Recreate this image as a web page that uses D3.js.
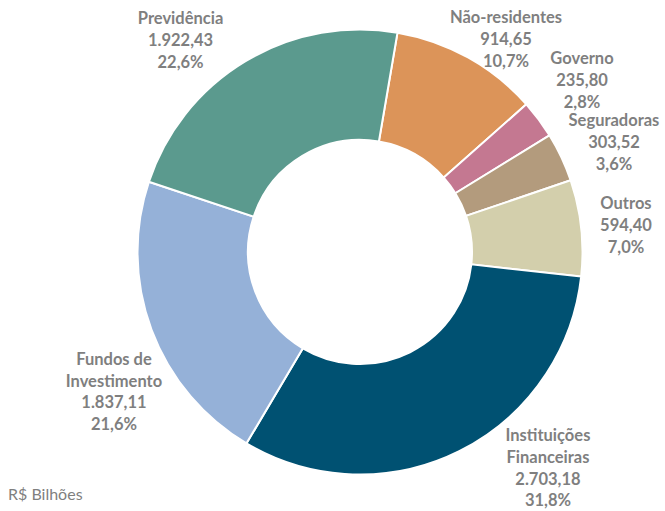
<!DOCTYPE html>
<meta charset="utf-8">
<script src="https://d3js.org/d3.v7.min.js"></script>
<style>
  body { margin: 0; background: #fff; }
  text { font-family: Lato, "Open Sans", sans-serif; fill: #7f7f7f; }
</style>
<div id="chart"></div>
<script>

// data (R$ bilhões), clockwise from the top
var categories = ["Não-residentes", "Governo", "Seguradoras", "Outros",
                  "Instituições Financeiras", "Fundos de Investimento", "Previdência"];
var values = [914.65, 235.80, 303.52, 594.40, 2703.18, 1837.11, 1922.43];
var percents = ["10,7%", "2,8%", "3,6%", "7,0%", "31,8%", "21,6%", "22,6%"];
var colors = ["#dc9459", "#c47891", "#b39b7d", "#d3cfac", "#005172", "#95b1d8", "#5b9a8e"];

// label lines for the category names (wrapped as in the original)
var nameLines = [["Não-residentes"], ["Governo"], ["Seguradoras"], ["Outros"],
                 ["Instituições", "Financeiras"], ["Fundos de", "Investimento"], ["Previdência"]];

// small nudges for each label away from its polar position
var nudges = [[12.5, 33.4], [1.3, -1.9], [5.2, 13.2], [-7.4, 8.8],
              [65.3, -24.4], [11.6, 49.3], [-38, 29.8]];

var width = 665, height = 511;
var cx = 360, cy = 252;
var outerR = 222.5, innerR = 112, labelR = 275;
var startAngle = 9.7 * Math.PI / 180;

var fmt = d3.formatLocale({decimal: ",", thousands: ".", grouping: [3], currency: ["R$", ""]}).format(",.2f");

var svg = d3.select("#chart")
  .append("svg")
    .attr("width", width)
    .attr("height", height);

var g = svg.append("g")
    .attr("transform", "translate(" + cx + "," + cy + ")");

var pie = d3.pie()
    .sort(null)
    .value(function(d) { return d; })
    .startAngle(startAngle)
    .endAngle(startAngle + 2 * Math.PI);

var arcs = pie(values);

var arc = d3.arc()
    .innerRadius(innerR)
    .outerRadius(outerR);

g.selectAll("path.slice")
  .data(arcs)
  .enter().append("path")
    .attr("class", "slice")
    .attr("d", arc)
    .attr("fill", function(d, i) { return colors[i]; })
    .attr("stroke", "#fff")
    .attr("stroke-width", 2);

// labels
var lineH = 21.8;
arcs.forEach(function(d, i) {
  var a = (d.startAngle + d.endAngle) / 2;
  var x = labelR * Math.sin(a) + nudges[i][0];
  var y = -labelR * Math.cos(a) + nudges[i][1];
  var lines = nameLines[i].concat([fmt(values[i]), percents[i]]);
  var t = g.append("text")
      .attr("text-anchor", "middle")
      .attr("font-weight", "bold")
      .attr("font-size", "16.5px");
  lines.forEach(function(l, j) {
    t.append("tspan")
      .attr("x", x)
      .attr("y", y + (j - (lines.length - 1) / 2) * lineH)
      .text(l);
  });
});

svg.append("text")
    .attr("x", 8)
    .attr("y", 500)
    .attr("font-size", "16px")
    .text("R$ Bilhões");

</script>
